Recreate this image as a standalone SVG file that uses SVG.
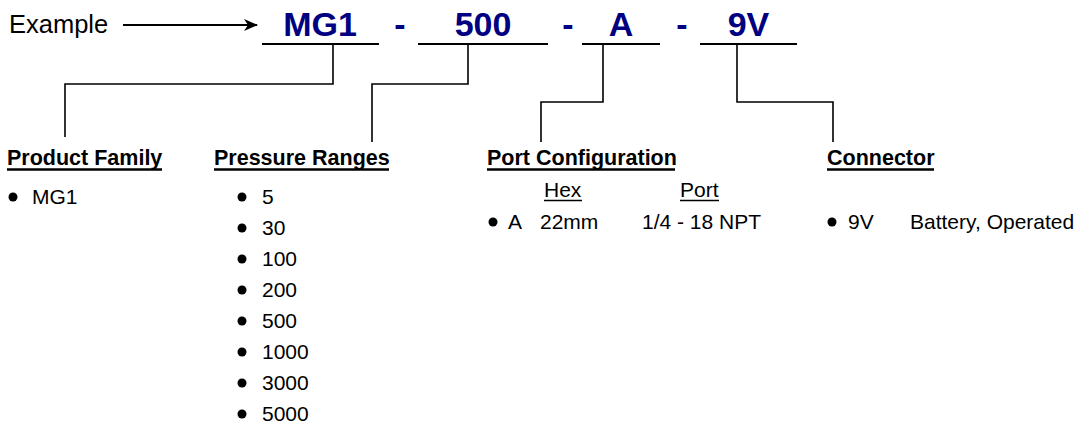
<svg xmlns="http://www.w3.org/2000/svg" width="1080" height="427" viewBox="0 0 1080 427">
<style>
text{font-family:"Liberation Sans",Arial,sans-serif;fill:#000}
.code{font-size:34px;font-weight:bold;fill:#000080;text-anchor:middle}
.head{font-size:21.5px;font-weight:bold}
.item{font-size:21px}
.ul{stroke:#000;stroke-width:2}
.hul{stroke:#000;stroke-width:2.6}
.conn{fill:none;stroke:#000;stroke-width:1.6}
</style>
<defs>
<marker id="arr" markerWidth="14" markerHeight="12" refX="13" refY="6" orient="auto" markerUnits="userSpaceOnUse">
<path d="M0,0 L14,6 L0,12 L4,6 z" fill="#000"/>
</marker>
</defs>
<g id="example">
<text x="9" y="33" style="font-size:25.5px">Example</text>
<line x1="123" y1="25" x2="257" y2="25" stroke="#000" stroke-width="2" marker-end="url(#arr)"/>
</g>
<g id="code">
<text class="code" x="320" y="36">MG1</text>
<text class="code" x="400" y="36">-</text>
<text class="code" x="483" y="36">500</text>
<text class="code" x="568" y="36">-</text>
<text class="code" x="621" y="36">A</text>
<text class="code" x="682" y="36">-</text>
<text class="code" x="748.5" y="36">9V</text>
<line class="ul" x1="262" y1="44" x2="379" y2="44"/>
<line class="ul" x1="418" y1="44" x2="548" y2="44"/>
<line class="ul" x1="582" y1="44" x2="660" y2="44"/>
<line class="ul" x1="700" y1="44" x2="797" y2="44"/>
</g>
<g id="connectors">
<polyline class="conn" points="333,44 333,84 65,84 65,137"/>
<polyline class="conn" points="468,44 468,84 372,84 372,142"/>
<polyline class="conn" points="603,44 603,102 541,102 541,142"/>
<polyline class="conn" points="737,44 737,102 833,102 833,142"/>
</g>
<g id="product-family">
<text class="head" x="7" y="165">Product Family</text>
<line class="hul" x1="7" y1="169.5" x2="162" y2="169.5"/>
<circle cx="13" cy="197" r="4.5"/>
<text class="item" x="32" y="204">MG1</text>
</g>
<g id="pressure-ranges">
<text class="head" x="214" y="165">Pressure Ranges</text>
<line class="hul" x1="214" y1="169.5" x2="389" y2="169.5"/>
<circle cx="242" cy="197" r="4.5"/><text class="item" x="262" y="204">5</text>
<circle cx="242" cy="228" r="4.5"/><text class="item" x="262" y="235">30</text>
<circle cx="242" cy="259" r="4.5"/><text class="item" x="262" y="266">100</text>
<circle cx="242" cy="290" r="4.5"/><text class="item" x="262" y="297">200</text>
<circle cx="242" cy="321" r="4.5"/><text class="item" x="262" y="328">500</text>
<circle cx="242" cy="352" r="4.5"/><text class="item" x="262" y="359">1000</text>
<circle cx="242" cy="383" r="4.5"/><text class="item" x="262" y="390">3000</text>
<circle cx="242" cy="414" r="4.5"/><text class="item" x="262" y="421">5000</text>
</g>
<g id="port-configuration">
<text class="head" x="487" y="165">Port Configuration</text>
<line class="hul" x1="487" y1="169.5" x2="675" y2="169.5"/>
<text class="item" x="544" y="197">Hex</text>
<line stroke="#000" stroke-width="1.6" x1="544" y1="200.5" x2="582" y2="200.5"/>
<text class="item" x="680" y="197">Port</text>
<line stroke="#000" stroke-width="1.6" x1="680" y1="200.5" x2="719" y2="200.5"/>
<circle cx="493" cy="222" r="4.5"/>
<text class="item" x="508" y="229">A</text>
<text class="item" x="540" y="229">22mm</text>
<text class="item" x="642" y="229">1/4 - 18 NPT</text>
</g>
<g id="connector">
<text class="head" x="827" y="165">Connector</text>
<line class="hul" x1="827" y1="169.5" x2="934" y2="169.5"/>
<circle cx="832" cy="222" r="4.5"/>
<text class="item" x="848" y="229">9V</text>
<text class="item" x="910" y="229">Battery, Operated</text>
</g>
</svg>
